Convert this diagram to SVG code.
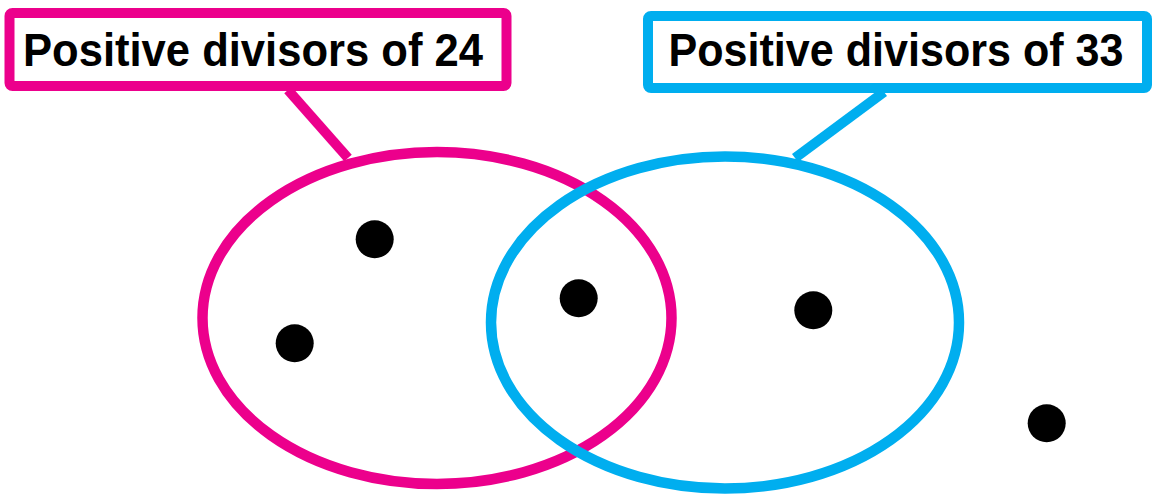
<svg xmlns="http://www.w3.org/2000/svg" width="1159" height="498" viewBox="0 0 1159 498">
<style>
.pink{stroke:#EC008C;}
.blue{stroke:#00AEEF;}
.set{fill:none;stroke-width:10.5;}
.box{fill:#fff;stroke-width:10;}
.lbl{font-family:"Liberation Sans",Arial,sans-serif;font-weight:bold;font-size:46px;fill:#000;text-anchor:middle;}
.dot{fill:#000;}
</style>
<rect width="1159" height="498" fill="#fff"/>
<g id="connectors">
<line class="pink" x1="288" y1="90" x2="348" y2="158" stroke-width="10"/>
<line class="blue" x1="884" y1="92" x2="795" y2="158" stroke-width="10"/>
</g>
<g id="set24">
<ellipse class="set pink" cx="437" cy="318" rx="234.5" ry="166"/>
</g>
<g id="set33">
<ellipse class="set blue" cx="725" cy="322.5" rx="234" ry="166"/>
</g>
<g id="label24">
<rect class="box pink" x="9.5" y="13" width="497" height="73" rx="3"/>
<text class="lbl" x="253" y="66" textLength="460" lengthAdjust="spacingAndGlyphs">Positive divisors of 24</text>
</g>
<g id="label33">
<rect class="box blue" x="648" y="16" width="499" height="72" rx="3"/>
<text class="lbl" x="896" y="66" textLength="455" lengthAdjust="spacingAndGlyphs">Positive divisors of 33</text>
</g>
<g id="dots">
<circle class="dot" cx="374.7" cy="239.3" r="19"/>
<circle class="dot" cx="294.7" cy="343.3" r="19"/>
<circle class="dot" cx="578.7" cy="298.3" r="19"/>
<circle class="dot" cx="813.3" cy="310.3" r="19"/>
<circle class="dot" cx="1046.7" cy="423.3" r="19"/>
</g>
</svg>
